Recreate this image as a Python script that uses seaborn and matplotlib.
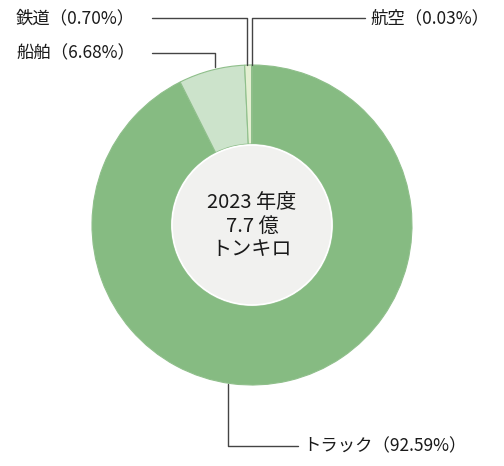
import matplotlib
matplotlib.use('Agg')
import matplotlib.pyplot as plt
import seaborn as sns

sns.set_style('white')
plt.rcParams['font.family'] = ['Noto Sans CJK JP', 'DejaVu Sans']

# data (shares of 2023 freight ton-km)
modes = ['トラック', '船舶', '鉄道', '航空']
shares = [92.59, 6.68, 0.70, 0.03]
colors = ['#86bb82', '#cce3cb', '#e4efd2', '#e4efd2']
center_lines = ['2023 年度', '7.7 億', 'トンキロ']

W, H = 504, 466
fig = plt.figure(figsize=(W / 100, H / 100), dpi=100)
ax = fig.add_axes([0, 0, 1, 1])

cx, cy = 252, H - 225
R = 160
wedges, _ = ax.pie(shares, colors=colors, startangle=90, counterclock=False,
                   radius=R, center=(cx, cy), frame=True,
                   wedgeprops={'width': R - 81, 'edgecolor': '#8fbf8b', 'linewidth': 0.8})
ax.set_xlim(0, W)
ax.set_ylim(0, H)
ax.set_aspect('equal')
ax.axis('off')

# hole
hole = plt.Circle((cx, cy), 80, facecolor='#f1f1ef', edgecolor='white', lw=1.2, zorder=3)
ax.add_patch(hole)
for i, t in enumerate(center_lines):
    ax.text(cx, H - (203 + 23.5 * i), t, ha='center', va='center', fontsize=14.5,
            color='#1a1a1a', zorder=4)

lc = '#444444'
fs = 12.5


def label(i):
    return f'{modes[i]}（{shares[i]:.2f}%）'


# leader lines and labels
ax.plot([152, 247, 247], [H - 18, H - 18, H - 65], color=lc, lw=1)
ax.text(16, H - 18, label(2), ha='left', va='center', fontsize=fs, color='#1a1a1a')
ax.plot([152, 215, 215], [H - 53, H - 53, H - 67], color=lc, lw=1)
ax.text(16, H - 53, label(1), ha='left', va='center', fontsize=fs, color='#1a1a1a')
ax.plot([252, 252, 365], [H - 65, H - 18, H - 18], color=lc, lw=1)
ax.text(370, H - 18, label(3), ha='left', va='center', fontsize=fs, color='#1a1a1a')
ax.plot([228, 228, 298], [H - 384, H - 446, H - 446], color=lc, lw=1)
ax.text(303, H - 446, label(0), ha='left', va='center', fontsize=fs, color='#1a1a1a')

fig.savefig('out.png', dpi=100)
